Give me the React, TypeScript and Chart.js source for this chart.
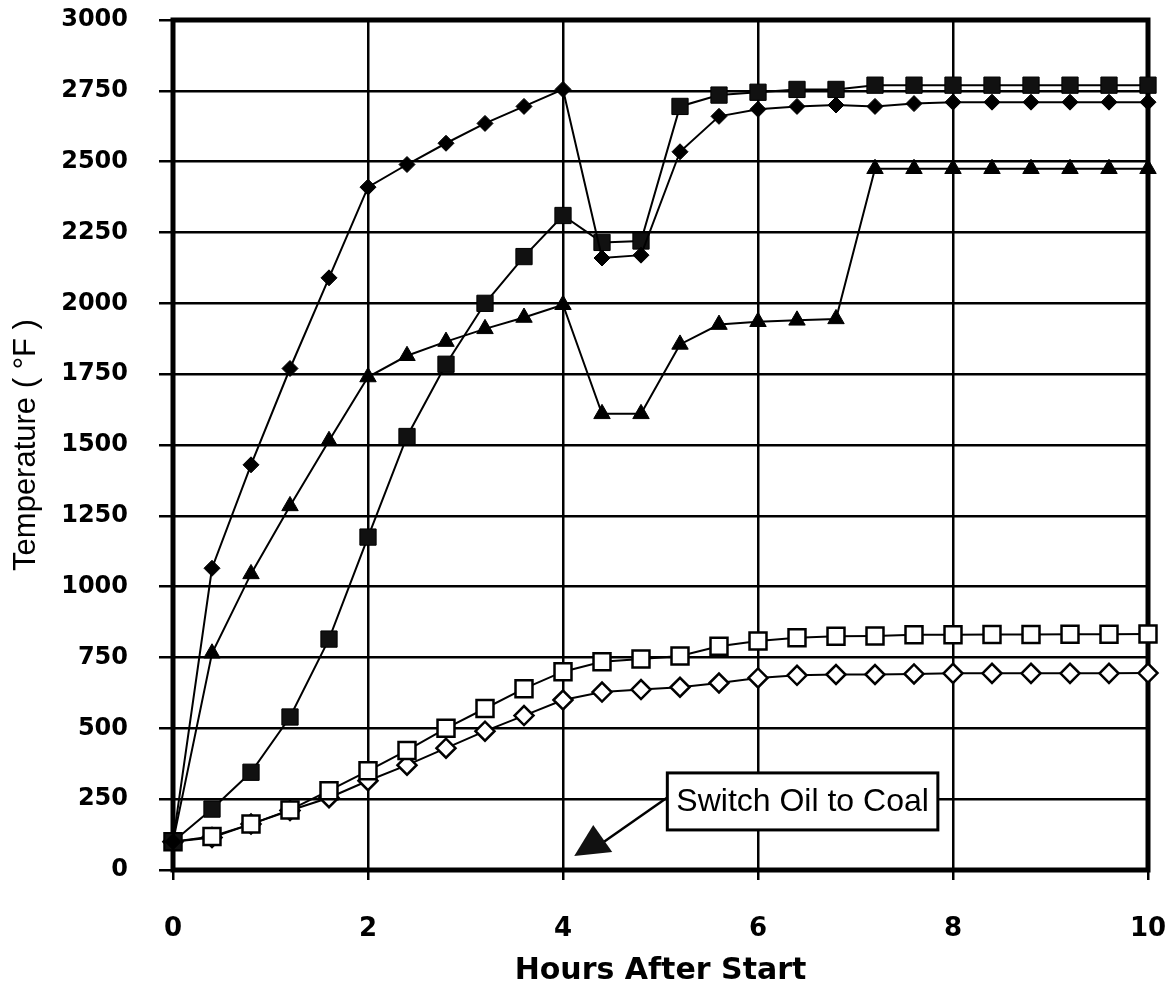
import React, { useEffect, useRef } from "react";
import { Chart, registerables } from "chart.js";

Chart.register(...registerables);

// ---- Data ----
const hours = [0, 0.4, 0.8, 1.2, 1.6, 2, 2.4, 2.8, 3.2, 3.6, 4, 4.4, 4.8, 5.2, 5.6, 6, 6.4, 6.8, 7.2, 7.6, 8, 8.4, 8.8, 9.2, 9.6, 10];

const filledDiamondTemps = [100, 1065, 1430, 1770, 2090, 2410, 2490, 2565, 2635, 2695, 2755, 2160, 2170, 2535, 2660, 2685, 2695, 2700, 2695, 2705, 2710, 2710, 2710, 2710, 2710, 2710];
const filledSquareTemps = [100, 215, 345, 540, 815, 1175, 1530, 1785, 2000, 2165, 2310, 2215, 2220, 2695, 2735, 2745, 2755, 2755, 2770, 2770, 2770, 2770, 2770, 2770, 2770, 2770];
const triangleTemps = [100, 765, 1045, 1285, 1515, 1740, 1815, 1865, 1910, 1950, 1995, 1610, 1610, 1855, 1925, 1935, 1940, 1945, 2475, 2475, 2475, 2475, 2475, 2475, 2475, 2475];
const openSquareTemps = [100, 118, 162, 212, 280, 350, 422, 500, 570, 640, 700, 735, 745, 755, 790, 808, 820, 825, 826, 830, 830, 831, 831, 832, 832, 833];
const openDiamondTemps = [100, 115, 162, 210, 255, 315, 370, 430, 490, 545, 600, 628, 637, 645, 660, 678, 687, 690, 690, 692, 694, 694, 694, 694, 694, 695];

const xAxisTitle = "Hours After Start";
const yAxisTitle = "Temperature ( \u00B0F )";

const annotationText = "Switch Oil to Coal";
const annotationBoxAnchor = { x: 5.07, y: 242 }; // left-middle of the note box, in data units
const annotationTarget = { x: 4.31, y: 92 };      // switch point marker, in data units

const toPoints = (vals: number[]) => hours.map((h, i) => ({ x: h, y: vals[i] }));

const framePlugin = {
  id: "frame",
  beforeDatasetsDraw(chart: any) {
    const { ctx, chartArea: a } = chart;
    ctx.save();
    ctx.lineWidth = 5;
    ctx.strokeStyle = "#000";
    ctx.strokeRect(a.left, a.top, a.right - a.left, a.bottom - a.top);
    ctx.restore();
  },
};

const annotationPlugin = {
  id: "switchNote",
  afterDatasetsDraw(chart: any) {
    const { ctx } = chart;
    const xs = chart.scales.x;
    const ys = chart.scales.y;
    const bx = xs.getPixelForValue(annotationBoxAnchor.x);
    const by = ys.getPixelForValue(annotationBoxAnchor.y);
    const tx = xs.getPixelForValue(annotationTarget.x);
    const ty = ys.getPixelForValue(annotationTarget.y);
    ctx.save();
    ctx.font = '32px "Liberation Sans", Arial, sans-serif';
    const tw = ctx.measureText(annotationText).width;
    const padX = 9;
    const h = 57;
    const w = tw + padX * 2;
    // arrow line
    ctx.strokeStyle = "#000";
    ctx.lineWidth = 2.5;
    ctx.beginPath();
    ctx.moveTo(bx, by - 4);
    ctx.lineTo(tx + 9, ty - 1);
    ctx.stroke();
    // triangle marker
    ctx.fillStyle = "#111";
    ctx.beginPath();
    ctx.moveTo(tx, ty - 19);
    ctx.lineTo(tx + 19, ty + 8);
    ctx.lineTo(tx - 19, ty + 12);
    ctx.closePath();
    ctx.fill();
    // box
    ctx.fillStyle = "#fff";
    ctx.fillRect(bx, by - h / 2, w, h);
    ctx.lineWidth = 3;
    ctx.strokeRect(bx, by - h / 2, w, h);
    ctx.fillStyle = "#000";
    ctx.textBaseline = "middle";
    ctx.textAlign = "left";
    ctx.fillText(annotationText, bx + padX, by + 1);
    ctx.restore();
  },
};

export default function App() {
  const canvasRef = useRef<HTMLCanvasElement | null>(null);

  useEffect(() => {
    if (!canvasRef.current) return;
    const common = {
      borderColor: "#000",
      borderWidth: 2,
      pointBorderColor: "#000",
      tension: 0,
      clip: false as any,
    };
    const chart = new Chart(canvasRef.current, {
      type: "line",
      data: {
        datasets: [
          {
            ...common,
            label: "Series 1",
            data: toPoints(filledDiamondTemps),
            pointStyle: "rectRot",
            pointRadius: 8,
            pointBackgroundColor: "#000",
            pointBorderWidth: 1,
          },
          {
            ...common,
            label: "Series 2",
            data: toPoints(filledSquareTemps),
            pointStyle: "rect",
            pointRadius: 11.5,
            pointBackgroundColor: "#111",
            pointBorderWidth: 1,
          },
          {
            ...common,
            label: "Series 3",
            data: toPoints(triangleTemps),
            pointStyle: "triangle",
            pointRadius: 9.5,
            pointBackgroundColor: "#000",
            pointBorderWidth: 1,
          },
          {
            ...common,
            label: "Series 4",
            data: toPoints(openSquareTemps),
            pointStyle: "rect",
            pointRadius: 12,
            pointBackgroundColor: "#fff",
            pointBorderWidth: 2.5,
          },
          {
            ...common,
            label: "Series 5",
            data: toPoints(openDiamondTemps),
            pointStyle: "rectRot",
            pointRadius: 9.5,
            pointBackgroundColor: "#fff",
            pointBorderWidth: 2.5,
          },
        ],
      },
      options: {
        responsive: false,
        animation: false,
        events: [],
        layout: { padding: { top: 20, right: 25, left: 0, bottom: 0 } },
        plugins: {
          legend: { display: false },
          tooltip: { enabled: false },
        },
        scales: {
          x: {
            type: "linear",
            min: 0,
            max: 10,
            afterFit: (s: any) => {
              s.height = 130;
              s.paddingLeft = 0;
              s.paddingRight = 0;
            },
            ticks: {
              stepSize: 2,
              color: "#000",
              padding: 34,
              callback: (v: any) => String(v),
              font: { family: '"DejaVu Sans", sans-serif', size: 26, weight: "bold" },
            },
            grid: { color: "#000", lineWidth: 2.5, tickLength: 10, tickColor: "#000" },
            border: { display: false },
            title: {
              display: true,
              text: xAxisTitle,
              color: "#000",
              padding: { top: 0, bottom: 11 },
              font: { family: '"DejaVu Sans", sans-serif', size: 30, weight: "bold" },
            },
          },
          y: {
            type: "linear",
            min: 0,
            max: 3000,
            afterFit: (s: any) => {
              s.width = 173;
              s.paddingTop = 0;
              s.paddingBottom = 0;
            },
            ticks: {
              stepSize: 250,
              color: "#000",
              padding: 31,
              callback: (v: any) => String(v),
              font: { family: '"DejaVu Sans", sans-serif', size: 24, weight: "bold" },
            },
            grid: { color: "#000", lineWidth: 2.5, tickLength: 14, tickColor: "#000" },
            border: { display: false },
            title: {
              display: true,
              text: yAxisTitle,
              color: "#000",
              padding: { top: 8, bottom: 0 },
              font: { family: '"Liberation Sans Narrow", "Liberation Sans", sans-serif', size: 31 },
            },
          },
        },
      },
      plugins: [framePlugin, annotationPlugin],
    } as any);
    return () => chart.destroy();
  }, []);

  return (
    <div style={{ position: "absolute", left: 0, top: 0, width: 1173, height: 1000, background: "#fff" }}>
      <canvas ref={canvasRef} width={1173} height={1000} style={{ display: "block" }} />
    </div>
  );
}
